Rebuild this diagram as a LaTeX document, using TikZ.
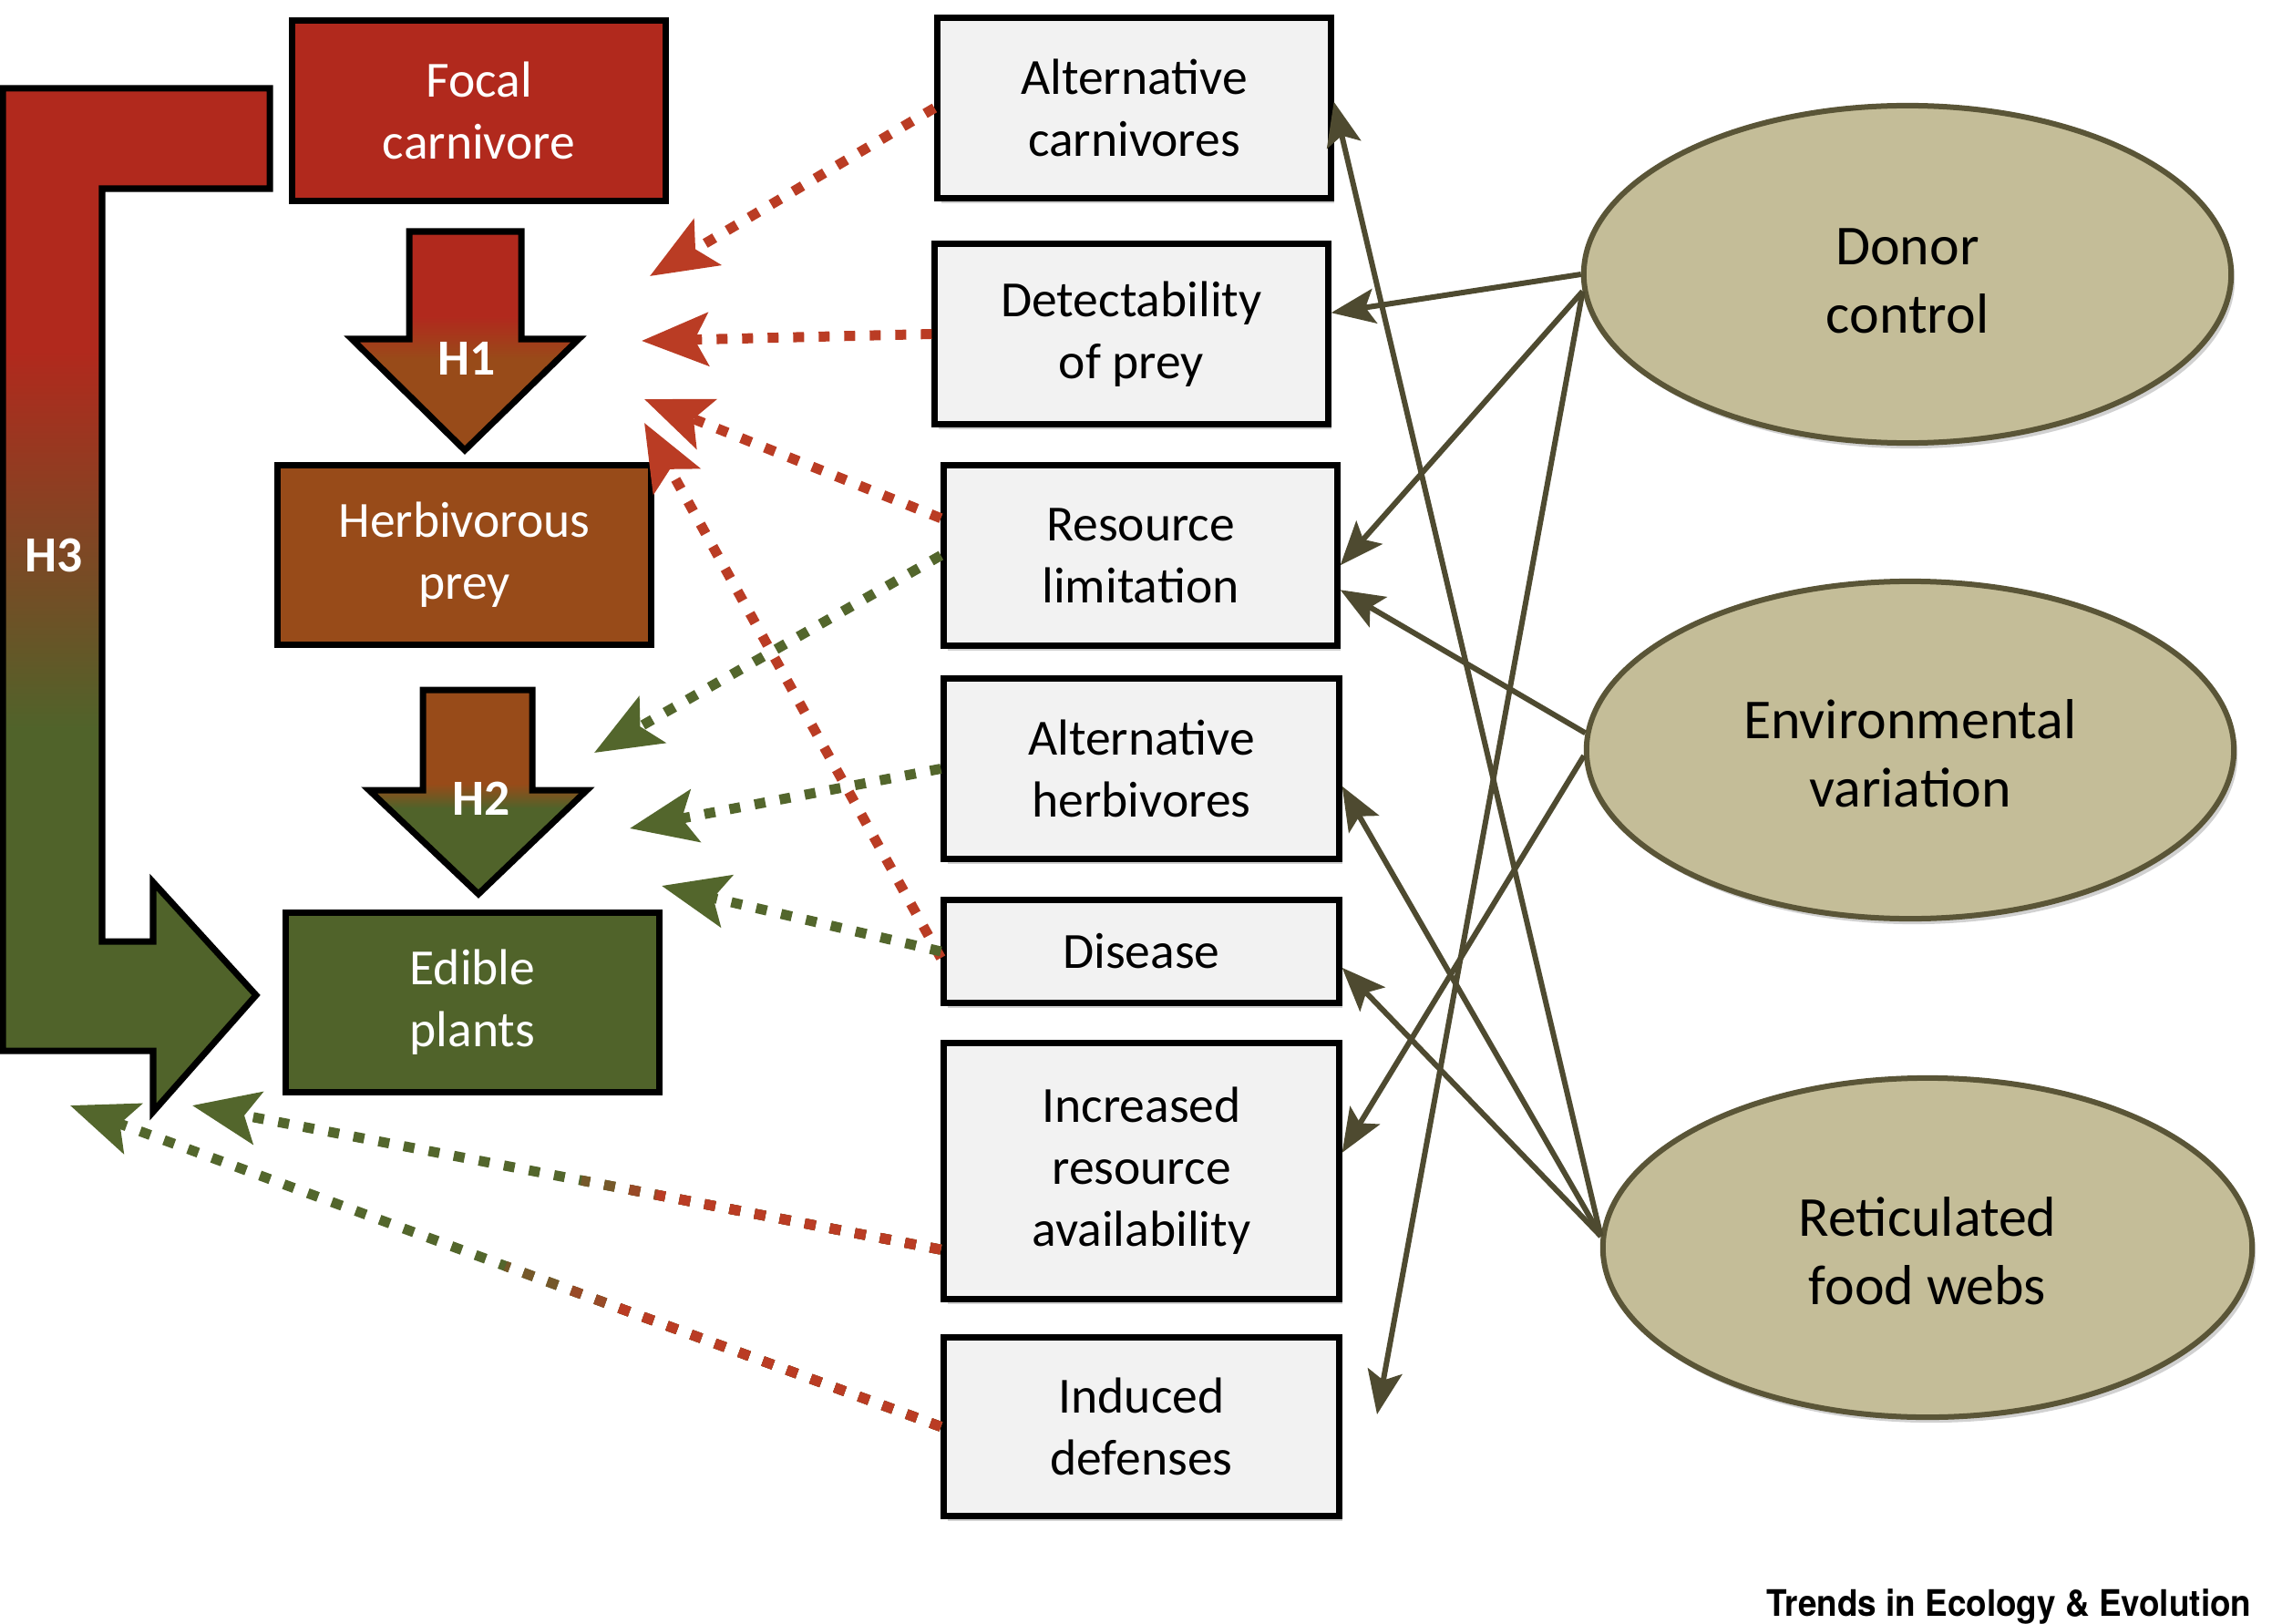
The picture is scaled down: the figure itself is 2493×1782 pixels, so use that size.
\documentclass[tikz,border=0pt]{standalone}
\usepackage{fontspec}
\usepackage{graphicx}
\setmainfont{Carlito}
\newfontfamily\heros{TeX Gyre Heros}
\usetikzlibrary{arrows.meta,shapes.geometric,calc,shadows}
\definecolor{cRed}{HTML}{B1291D}
\definecolor{cBrown}{HTML}{984B19}
\definecolor{cGreen}{HTML}{50632A}
\definecolor{dRed}{HTML}{BA3C24}
\definecolor{dGreen}{HTML}{53662C}
\definecolor{khaki}{HTML}{C4BD98}
\definecolor{olive}{HTML}{5A5537}
\definecolor{arrowc}{HTML}{4E4A30}
\definecolor{boxgray}{HTML}{F2F2F2}
\pgfdeclareverticalshading{hthree}{100bp}{color(0bp)=(cGreen); color(43.7bp)=(cGreen); color(62.2bp)=(cRed); color(100bp)=(cRed)}
\pgfdeclareverticalshading{hone}{100bp}{color(0bp)=(cBrown); color(45.6bp)=(cBrown); color(55.6bp)=(cRed); color(100bp)=(cRed)}
\pgfdeclareverticalshading{htwo}{100bp}{color(0bp)=(cGreen); color(46bp)=(cGreen); color(52bp)=(cBrown); color(100bp)=(cBrown)}
\tikzset{
  cbox/.style={draw=black, line width=0.07cm, text=white, align=center,
    font=\fontsize{15.8}{19.3}\selectfont, minimum width=4.09cm, minimum height=1.97cm, inner sep=0pt},
  gbox/.style={draw=black, line width=0.07cm, fill=boxgray, align=center,
    font=\fontsize{15.8}{19.3}\selectfont, minimum width=4.33cm, minimum height=1.97cm, inner sep=0pt,
    drop shadow={shadow xshift=0.04cm, shadow yshift=-0.06cm, fill=black, opacity=0.18}},
  ell/.style={ellipse, draw=olive, line width=0.06cm, fill=khaki, minimum width=7.1cm, minimum height=3.7cm,
    font=\fontsize{17.6}{21.3}\selectfont, align=center, inner sep=0pt,
    drop shadow={shadow xshift=0.04cm, shadow yshift=-0.06cm, fill=black, opacity=0.18}},
  hshape/.style={draw=black, line width=0.07cm},
  hlabel/.style={text=white, font=\fontsize{15.8}{19.3}\selectfont\bfseries},
  sarrow/.style={draw=arrowc, line width=0.06cm, -{Stealth[length=0.48cm,width=0.38cm,inset=0.1cm]}},
  rdash/.style={draw=dRed, line width=0.11cm, dash pattern=on 0.12cm off 0.16cm,
    -{Stealth[length=0.73cm,width=0.58cm,inset=0.15cm]}},
  gdash/.style={draw=dGreen, line width=0.11cm, dash pattern=on 0.12cm off 0.16cm,
    -{Stealth[length=0.73cm,width=0.58cm,inset=0.15cm]}},
  mixdash/.style={line width=0.11cm, dash pattern=on 0.12cm off 0.16cm}
}
\begin{document}
\begin{tikzpicture}[x=0.01cm,y=-0.01cm]
\fill[white] (0,0) rectangle (2493,1782);
\useasboundingbox (0,0) rectangle (2493,1782);

% hypothesis arrows
\shadedraw[hshape, shading=hthree] (3,97) -- (296,97) -- (296,207) -- (112,207) -- (112,1033)
  -- (168,1033) -- (168,968) -- (281,1092) -- (168,1220) -- (168,1153) -- (3,1153) -- cycle;
\shadedraw[hshape, shading=hone] (449,254) -- (572,254) -- (572,372) -- (635,372) -- (510,494)
  -- (386,372) -- (449,372) -- cycle;
\shadedraw[hshape, shading=htwo] (464,757) -- (584,757) -- (584,867) -- (644,867) -- (525,981)
  -- (405,867) -- (464,867) -- cycle;
\node[hlabel] (h3) at (59,609) {H3};
\node[hlabel] (h1) at (512,393) {H1};
\node[hlabel] (h2) at (528,876) {H2};

% trophic boxes
\node[cbox, fill=cRed] (focal) at (525.5,121.5) {Focal\\carnivore};
\node[cbox, fill=cBrown] (herb) at (509.5,609) {Herbivorous\\prey};
\node[cbox, fill=cGreen] (edible) at (518.5,1100) {Edible\\plants};

% mechanism boxes
\node[gbox, minimum width=4.31cm] (altc) at (1244.5,118.5) {Alternative\\carnivores};
\node[gbox, minimum width=4.31cm] (detect) at (1241.5,366.5) {Detectability\\of prey};
\node[gbox, minimum width=4.31cm] (reslim) at (1251.5,609.5) {Resource\\limitation};
\node[gbox] (alth) at (1252.5,843.5) {Alternative\\herbivores};
\node[gbox, minimum height=1.12cm] (disease) at (1252.5,1044) {Disease};
\node[gbox, minimum height=2.80cm] (incr) at (1252.5,1285) {Increased\\resource\\availability};
\node[gbox, minimum height=1.95cm] (induced) at (1252.5,1565.5) {Induced\\defenses};

% context ellipses
\node[ell] (donor) at (2093,301) {\\[-0.7ex]Donor\\control};
\node[ell] (env) at (2096,823) {\\[-0.85ex]Environmental\\variation};
\node[ell, minimum width=7.12cm, minimum height=3.72cm] (retic) at (2115,1369) {\\[-0.85ex]Reticulated\\food webs};

% tip coordinates
\coordinate (tA) at (713,303);
\coordinate (tB) at (704,374);
\coordinate (tC) at (707,438);
\coordinate (tD) at (707,464);
\coordinate (tE) at (652,826);
\coordinate (tF) at (691,909);
\coordinate (tG) at (726,972);
\coordinate (tH) at (211,1213);
\coordinate (tI) at (77,1213);
\coordinate (indtip) at (1511,1552);

% dashed arrows (red)
\draw[rdash] (altc.west) -- (tA);
\draw[rdash] (detect.west) -- (tB);
\draw[rdash] ($(reslim.north west)!0.3!(reslim.south west)$) -- (tC);
\draw[rdash] ($(disease.north west)!0.56!(disease.south west)$) -- (tD);
% dashed arrows (green)
\draw[gdash] (reslim.west) -- (tE);
\draw[gdash] (alth.west) -- (tF);
\draw[gdash] ($(disease.north west)!0.5!(disease.south west)$) -- (tG);
% dashed arrows with colour change
\coordinate (sH) at ($(incr.north west)!0.8!(incr.south west)$);
\draw[gdash] (sH) -- (tH);
\draw[mixdash, draw=dRed!33!dGreen] (sH) -- ($(sH)!0.48!(tH)$);
\draw[mixdash, draw=dRed!67!dGreen] (sH) -- ($(sH)!0.43!(tH)$);
\draw[mixdash, draw=dRed] (sH) -- ($(sH)!0.38!(tH)$);
\draw[gdash] (induced.west) -- (tI);
\draw[mixdash, draw=dRed!33!dGreen] (induced.west) -- ($(induced.west)!0.50!(tI)$);
\draw[mixdash, draw=dRed!67!dGreen] (induced.west) -- ($(induced.west)!0.44!(tI)$);
\draw[mixdash, draw=dRed] (induced.west) -- ($(induced.west)!0.38!(tI)$);

% solid arrows
\draw[sarrow] (donor.west) -- ($(detect.north east)!0.386!(detect.south east)$);
\draw[sarrow] (donor.183) -- ($(reslim.north east)!0.553!(reslim.south east)$);
\draw[sarrow] (donor.183) -- (indtip);
\draw[sarrow] (env.177) -- ($(reslim.north east)!0.685!(reslim.south east)$);
\draw[sarrow] (env.181) -- ($(incr.north east)!0.43!(incr.south east)$);
\draw[sarrow] (retic.178) -- ($(altc.north east)!0.467!(altc.south east)$);
\draw[sarrow] (retic.178) -- ($(alth.north east)!0.594!(alth.south east)$);
\draw[sarrow] (retic.178) -- ($(disease.north east)!0.65!(disease.south east)$);

% credit
\node[anchor=east, inner sep=0pt, font=\heros\bfseries\fontsize{11.4}{13}\selectfont] (credit) at (2471,1763)
  {\scalebox{0.92}[1]{Trends in Ecology \& Evolution}};
\end{tikzpicture}
\end{document}
